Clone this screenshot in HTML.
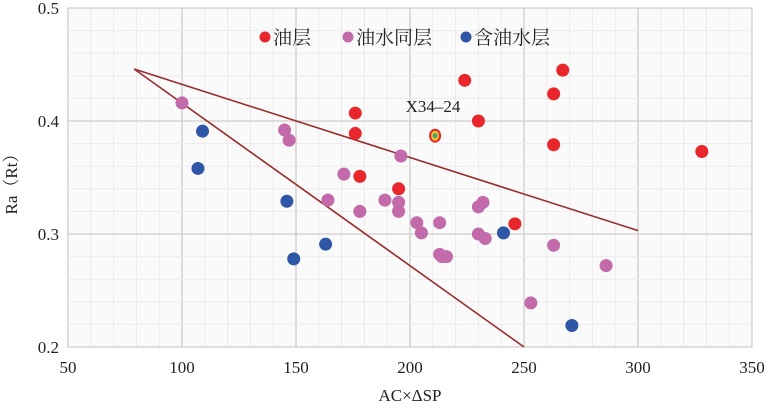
<!DOCTYPE html>
<html><head><meta charset="utf-8"><style>
body{margin:0;background:#fff;}
svg text{font-family:"Liberation Serif","Noto Serif CJK SC",serif;fill:#222;}
</style></head><body>
<svg id="c" width="770" height="407"></svg>
<script>
const xTicks=[50,100,150,200,250,300,350];
const yTicks=[0.2,0.3,0.4,0.5];
const oilX=[176,176,178,195,224,230,246,263,267,263,328];
const oilY=[0.407,0.389,0.351,0.340,0.436,0.400,0.309,0.424,0.445,0.379,0.373];
const mixX=[100,145,147,164,171,178,189,195,195,196,203,205,213,213,214,216,230,232,230,233,253,263,286];
const mixY=[0.416,0.392,0.383,0.330,0.353,0.320,0.330,0.328,0.320,0.369,0.310,0.301,0.310,0.282,0.280,0.280,0.324,0.328,0.300,0.296,0.239,0.290,0.272];
const watX=[107,109,146,149,163,241,271];
const watY=[0.358,0.391,0.329,0.278,0.291,0.301,0.219];
const specX=[211];const specY=[0.387];
const lineA=[[79,0.446],[300,0.303]];
const lineB=[[79,0.446],[250,0.2]];
const NS="http://www.w3.org/2000/svg",svg=document.getElementById('c');
const X0=68,X1=752,Y0=347,Y1=8;
const sx=v=>X0+(v-50)/300*(X1-X0), sy=v=>Y0-(v-0.2)/0.3*(Y0-Y1);
function mk(t,a,p){const e=document.createElementNS(NS,t);for(const k in a)e.setAttribute(k,a[k]);(p||svg).appendChild(e);return e;}
const bg=mk('rect',{x:X0,y:Y1,width:X1-X0,height:Y0-Y1,fill:'#fafafa',stroke:'#ccc'});


for(let v=50;v<=350;v+=10){const l=mk('line',{x1:sx(v),x2:sx(v),y1:Y1,y2:Y0,stroke:v%50==0?'#d0cdcb':'#ebebeb','stroke-width':v%50==0?1.3:1});

}
for(let i=0;i<=15;i++){const v=0.2+i*0.02;const l=mk('line',{x1:X0,x2:X1,y1:sy(v),y2:sy(v),stroke:i%5==0?'#d0cdcb':'#ebebeb','stroke-width':i%5==0?1.3:1});

}
xTicks.forEach(v=>{const t=mk('text',{x:sx(v),y:373,'text-anchor':'middle','font-size':17});t.textContent=v;

});
yTicks.forEach(v=>{const t=mk('text',{x:59,y:sy(v)+6,'text-anchor':'end','font-size':17});t.textContent=v.toFixed(1);

});
const xt=mk('text',{x:410,y:401,'text-anchor':'middle','font-size':17});xt.textContent='AC×ΔSP';


const yt=mk('text',{x:17,y:180,'text-anchor':'middle','font-size':17,transform:'rotate(-90 17 180)'});yt.textContent='Ra（Rt）';


[lineA,lineB].forEach(L=>{const l=mk('line',{x1:sx(L[0][0]),y1:sy(L[0][1]),x2:sx(L[1][0]),y2:sy(L[1][1]),stroke:'#9a2b2b','stroke-width':1.6});

});
function pts(xs,ys,col,name){xs.forEach((x,i)=>{const c=mk('circle',{cx:sx(x),cy:sy(ys[i]),r:6.5,fill:col});

});}
pts(mixX,mixY,'#c26aaa','point-oil-water');
pts(oilX,oilY,'#e8262b','point-oil');
pts(watX,watY,'#2f55a6','point-water-oil');
specX.forEach((x,i)=>{const g=mk('g',{});

mk('ellipse',{cx:sx(x),cy:sy(specY[i]),rx:6,ry:7,fill:'#e8262b'},g);mk('ellipse',{cx:sx(x),cy:sy(specY[i]),rx:4,ry:5,fill:'#f2c62a'},g);mk('circle',{cx:sx(x),cy:sy(specY[i]),r:2.5,fill:'#4aa06a'},g);});
const an=mk('text',{x:433,y:112,'text-anchor':'middle','font-size':17});an.textContent='X34–24';


[[265,'#e8262b','油层'],[348,'#c26aaa','油水同层'],[466,'#2f55a6','含油水层']].forEach(e=>{
const g=mk('g',{});

mk('circle',{cx:e[0],cy:37,r:5.5,fill:e[1]},g);const t=mk('text',{x:e[0]+8,y:44,'font-size':19},g);t.textContent=e[2];});
</script>
</body></html>
